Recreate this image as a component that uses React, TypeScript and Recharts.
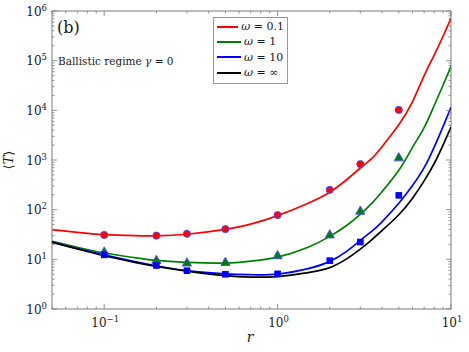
import React from 'react';
import { ComposedChart, Line, Scatter, XAxis, YAxis, ReferenceArea, Legend, Customized } from 'recharts';

// ---------- data ----------
const curveR = [0.05, 0.07, 0.1, 0.15, 0.2, 0.3, 0.5, 0.7, 1, 1.5, 2, 2.5, 3, 3.5, 4, 5, 6, 7, 8, 9, 10];
const curveOmega01 = [39.5, 35, 31.5, 30, 29.8, 32, 40, 51, 76, 135, 225, 400, 690, 1080, 1850, 5100, 15000, 50000, 130000, 310000, 720000];
const curveOmega1 = [23, 17.5, 13.4, 10.8, 9.5, 8.7, 8.4, 9.2, 11.1, 17.5, 29, 48, 80, 135, 230, 620, 1800, 4500, 12500, 32000, 77000];
const curveOmega10 = [22.5, 16.5, 12.3, 9.0, 7.4, 5.9, 5.1, 4.9, 5.05, 6.5, 9.1, 14.5, 24, 37, 57, 135, 306, 700, 1820, 4700, 11500];
const curveOmegaInf = [21.9, 16.2, 11.8, 8.7, 7.2, 5.8, 4.7, 4.4, 4.5, 5.4, 6.8, 10.2, 16, 25, 38, 79, 170, 380, 850, 2000, 4600];

const simR = [0.1, 0.2, 0.3, 0.5, 1, 2, 3, 5];
const simOmega01 = [31, 30, 32.7, 40.7, 78, 251, 826, 10200];
const simOmega1 = [14.4, 9.8, 8.7, 8.9, 12.2, 32, 96, 1140];
const simOmega10 = [12.3, 7.5, 5.9, 5.0, 5.1, 9.4, 22.3, 194];

const omegaLabels = ['0.1', '1', '10', '∞'];
const seriesColors = ['#ff0000', '#008000', '#0000ff', '#000000'];

const xMajorTicks = [0.1, 1, 10];
const yMajorTicks = [1, 10, 100, 1000, 10000, 100000, 1000000];
const xMinorTicks = [0.05, 0.06, 0.07, 0.08, 0.09, 0.2, 0.3, 0.4, 0.5, 0.6, 0.7, 0.8, 0.9, 2, 3, 4, 5, 6, 7, 8, 9];
const yMinorMultipliers = [2, 3, 4, 5, 6, 7, 8, 9];

// ---------- layout ----------
const W = 469;
const H = 352;
const MARGIN = { top: 11, right: 18, bottom: 13, left: 12 };
const YAXIS_W = 40;
const XAXIS_H = 30;
const PLOT_LEFT = MARGIN.left + YAXIS_W;
const PLOT_TOP = MARGIN.top;
const PLOT_RIGHT = W - MARGIN.right;
const PLOT_BOTTOM = H - MARGIN.bottom - XAXIS_H;
const SERIF = "'DejaVu Serif', serif";
const serifStyle = { fontFamily: SERIF };
const AXIS_COLOR = '#7a7a7a';
const TEXT_COLOR = '#1a1a1a';

const toPoints = (xs: number[], ys: number[]) => xs.map((x, i) => ({ x, y: ys[i] }));
const curves = [curveOmega01, curveOmega1, curveOmega10, curveOmegaInf].map((ys) => toPoints(curveR, ys));
const sims = [simOmega01, simOmega1, simOmega10].map((ys) => toPoints(simR, ys));

const xTicks = [...xMinorTicks, ...xMajorTicks].sort((a, b) => a - b);
const yTicks: number[] = [];
yMajorTicks.forEach((m, i) => {
  yTicks.push(m);
  if (i < yMajorTicks.length - 1) yMinorMultipliers.forEach((k) => yTicks.push(k * m));
});

const isMajor = (v: number) => {
  const l = Math.log10(v);
  return Math.abs(l - Math.round(l)) < 1e-6;
};
const expText = (v: number) => {
  const e = Math.round(Math.log10(v));
  return e < 0 ? '\u2212' + Math.abs(e) : String(e);
};

const XTick = (props: any) => {
  const { x, payload } = props;
  const v = payload.value;
  const major = isMajor(v);
  const len = major ? 5 : 2.5;
  return (
    <g>
      <line x1={x} x2={x} y1={PLOT_BOTTOM} y2={PLOT_BOTTOM - len} stroke={AXIS_COLOR} strokeWidth={0.8} />
      <line x1={x} x2={x} y1={PLOT_TOP} y2={PLOT_TOP + len} stroke={AXIS_COLOR} strokeWidth={0.8} />
      {major && (
        <text x={x + 1} y={PLOT_BOTTOM + 18} textAnchor="middle" style={serifStyle} fontSize={12} fill={TEXT_COLOR}>
          <tspan>10</tspan>
          <tspan dy={-5} fontSize={8.5}>{expText(v)}</tspan>
        </text>
      )}
    </g>
  );
};

const YTick = (props: any) => {
  const { y, payload } = props;
  const v = payload.value;
  const major = isMajor(v);
  const len = major ? 5 : 2.5;
  return (
    <g>
      <line x1={PLOT_LEFT} x2={PLOT_LEFT + len} y1={y} y2={y} stroke={AXIS_COLOR} strokeWidth={0.8} />
      <line x1={PLOT_RIGHT} x2={PLOT_RIGHT - len} y1={y} y2={y} stroke={AXIS_COLOR} strokeWidth={0.8} />
      {major && (
        <text x={PLOT_LEFT - 5} y={y + 4.5} textAnchor="end" style={serifStyle} fontSize={12} fill={TEXT_COLOR}>
          <tspan>10</tspan>
          <tspan dy={-5} fontSize={8.5}>{expText(v)}</tspan>
        </text>
      )}
    </g>
  );
};

const CircleMarker = (p: any) => (
  <circle cx={p.cx} cy={p.cy} r={3.6} fill="#ff0000" stroke="#4a4aff" strokeWidth={0.9} />
);
const TriangleMarker = (p: any) => {
  const { cx, cy } = p;
  const s = 4.6;
  return (
    <polygon
      points={`${cx},${cy - s} ${cx - s},${cy + s * 0.8} ${cx + s},${cy + s * 0.8}`}
      fill="#008000"
      stroke="#4a4aff"
      strokeWidth={0.9}
    />
  );
};
const SquareMarker = (p: any) => (
  <rect x={p.cx - 3.3} y={p.cy - 3.3} width={6.6} height={6.6} fill="#0000ff" />
);
const markerShapes = [CircleMarker, TriangleMarker, SquareMarker];

const Extras = () => (
  <g fill={TEXT_COLOR}>
    <text x={57} y={33} fontSize={16} style={serifStyle}>(b)</text>
    <text x={58} y={65} fontSize={10.5} style={serifStyle}>
      Ballistic regime <tspan fontStyle="italic">γ</tspan> = 0
    </text>
    <text x={13} y={160} fontSize={13} textAnchor="middle" transform="rotate(-90, 13, 160)" style={serifStyle}>
      ⟨<tspan fontStyle="italic">T</tspan>⟩
    </text>
    <text x={250} y={342} fontSize={14} fontStyle="italic" textAnchor="middle" style={serifStyle}>r</text>
  </g>
);

const renderLegend = () => (
  <div
    style={{
      border: '1px solid #999',
      background: '#fff',
      padding: '1px 3px 3px 3px',
      fontFamily: SERIF,
      fontSize: 11,
      width: 67,
      boxSizing: 'content-box',
    }}
  >
    {omegaLabels.map((l, i) => (
      <div key={l} style={{ display: 'flex', alignItems: 'center', height: 15.3, whiteSpace: 'nowrap' }}>
        <span style={{ display: 'inline-block', width: 24, height: 0, borderTop: `2px solid ${seriesColors[i]}`, marginRight: 3 }} />
        <span style={{ color: TEXT_COLOR }}>
          <i>ω</i> = {l}
        </span>
      </div>
    ))}
  </div>
);

export default function App() {
  return (
    <div style={{ position: 'absolute', left: 0, top: 0, width: W, height: H, background: '#fff' }}>
      <ComposedChart width={W} height={H} margin={MARGIN}>
        <XAxis
          dataKey="x"
          type="number"
          scale="log"
          domain={[0.05, 10]}
          allowDataOverflow
          ticks={xTicks}
          interval={0}
          tick={<XTick />}
          tickSize={0}
          tickMargin={0}
          tickLine={false}
          axisLine={false}
          height={XAXIS_H}
        />
        <YAxis
          dataKey="y"
          type="number"
          scale="log"
          domain={[1, 1000000]}
          allowDataOverflow
          ticks={yTicks}
          interval={0}
          tick={<YTick />}
          tickSize={0}
          tickMargin={0}
          tickLine={false}
          axisLine={false}
          width={YAXIS_W}
        />
        <ReferenceArea x1={0.05} x2={10} y1={1} y2={1000000} fill="none" fillOpacity={0} stroke={AXIS_COLOR} strokeWidth={1} />
        {curves.map((data, i) => (
          <Line
            key={'c' + i}
            data={data}
            dataKey="y"
            name={'ω = ' + omegaLabels[i]}
            type="natural"
            stroke={seriesColors[i]}
            strokeWidth={1.7}
            dot={false}
            activeDot={false}
            isAnimationActive={false}
            legendType="line"
          />
        ))}
        {sims.map((data, i) => (
          <Scatter
            key={'s' + i}
            data={data}
            dataKey="y"
            shape={markerShapes[i]}
            fill={seriesColors[i]}
            isAnimationActive={false}
            legendType="none"
          />
        ))}
        <Customized component={Extras} />
        <Legend
          content={renderLegend}
          layout="horizontal"
          verticalAlign="middle"
          align="center"
          wrapperStyle={{ position: 'absolute', left: 213, top: 17, width: 'auto', height: 'auto' }}
        />
      </ComposedChart>
    </div>
  );
}
